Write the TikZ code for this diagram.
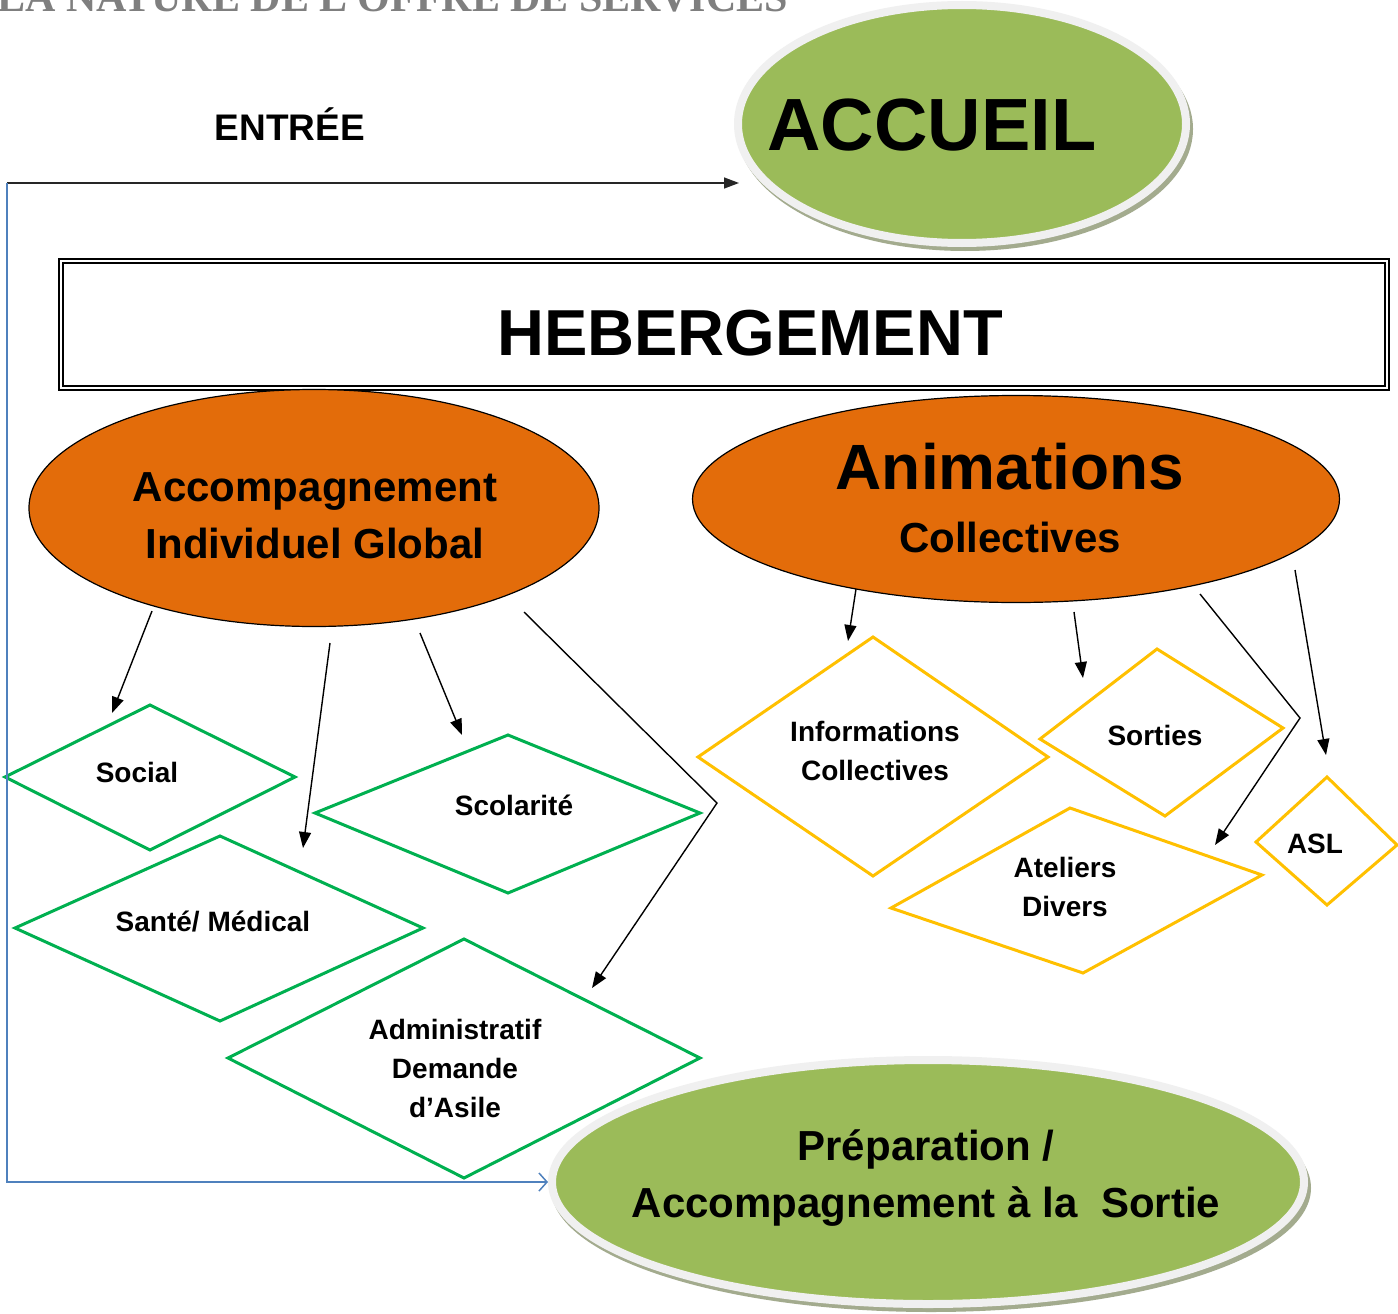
\documentclass[tikz,border=0pt]{standalone}
\usepackage{fontspec}
\setmainfont{Liberation Sans}
\newfontfamily\titlefont{Liberation Serif}
\usetikzlibrary{shapes.geometric,arrows.meta}
\definecolor{accgreen}{HTML}{9BBB59}
\definecolor{rimgray}{HTML}{F0F0F0}
\definecolor{shadowc}{HTML}{A3AB8E}
\definecolor{orangef}{HTML}{E36C0A}
\definecolor{dgreen}{HTML}{00B050}
\definecolor{dyellow}{HTML}{FFC000}
\definecolor{lblue}{HTML}{4F81BD}
\definecolor{titlegray}{HTML}{7F7F7F}
\begin{document}
\begin{tikzpicture}[x=1pt,y=-1pt,
  greenoval/.style={ellipse, fill=accgreen, draw=rimgray, line width=8pt, inner sep=0pt},
  orangeoval/.style={ellipse, fill=orangef, draw=black, line width=1.2pt, inner sep=0pt},
  lbl/.style={font=\bfseries\fontsize{28}{39}\selectfont, align=center, inner sep=0pt, anchor=base},
  biglbl/.style={font=\bfseries\fontsize{42}{57}\selectfont, align=center, inner sep=0pt, anchor=base},
  gdia/.style={draw=dgreen, line width=3pt, line join=miter},
  ydia/.style={draw=dyellow, line width=3pt, line join=miter},
  arr/.style={draw=black, line width=1.4pt, -{Triangle[length=16pt,width=12pt]}},
  bluearr/.style={draw=lblue, line width=1.5pt, -{Straight Barb[length=8pt,width=18pt,line width=1.5pt]}}
]
\useasboundingbox (0,0) rectangle (1398,1314);
\fill[white] (0,0) rectangle (1398,1314);

% title (cut off at top, as in the reference)
\begin{scope}
\clip (0,0) rectangle (1398,1314);
\node[font=\titlefont\bfseries\fontsize{42}{42}\selectfont, text=titlegray, inner sep=0pt, anchor=base west] (title) at (-3,12) {LA NATURE DE L’OFFRE DE SERVICES};
\end{scope}

% ACCUEIL
\fill[shadowc] (965,129) ellipse [x radius=228, y radius=122];
\node[greenoval, minimum width=448pt, minimum height=238pt] (accueil) at (962,124) {};
\node[font=\bfseries\fontsize{74}{80}\selectfont, inner sep=0pt, anchor=base] (accueiltxt) at (932,150) {ACCUEIL};

\node[font=\bfseries\fontsize{37}{40}\selectfont, inner sep=0pt, anchor=base] (entree) at (290,140) {ENTRÉE};

% HEBERGEMENT
\node[draw=black, double, line width=1.8pt, double distance=2.6pt, minimum width=1326pt, minimum height=127pt, inner sep=0pt] (heb) at (724,324.5) {};
\node[font=\bfseries\fontsize{65}{70}\selectfont, inner sep=0pt, anchor=base] (hebtxt) at (750,355) {HEBERGEMENT};

% Orange ellipses
\node[orangeoval, minimum width=570pt, minimum height=237pt] (aig) at (314,508) {};
\node[biglbl] (aigtxt) at (315,558) {Accompagnement\\Individuel Global};
\node[orangeoval, minimum width=647pt, minimum height=207pt] (anim) at (1016,499) {};
\node[font=\bfseries\fontsize{64}{64}\selectfont, inner sep=0pt, anchor=base] (animtxt) at (1010,489) {Animations};
\node[biglbl] (colltxt) at (1010,552) {Collectives};

% Green diamonds
\draw[gdia] (5,777) -- (150,705) -- (295,777) -- (150,850) -- cycle;
\node[lbl] (social) at (137,782) {Social};
\draw[gdia] (315,813) -- (508,735) -- (700,813) -- (508,893) -- cycle;
\node[lbl] (scol) at (514,815) {Scolarité};
\draw[gdia] (15,928) -- (220,836) -- (423,928) -- (220,1021) -- cycle;
\node[lbl] (sante) at (213,931) {Santé/ Médical};
\draw[gdia] (228,1058) -- (464,939) -- (700,1058) -- (464,1178) -- cycle;
\node[lbl] (admin) at (455,1117) {Administratif\\Demande\\d’Asile};

% Yellow diamonds
\draw[ydia] (698,757) -- (873,637) -- (1048,757) -- (873,876) -- cycle;
\node[lbl] (info) at (875,780) {Informations\\Collectives};
\draw[ydia] (1040,739) -- (1157,649) -- (1283,728) -- (1165,816) -- cycle;
\node[lbl] (sorties) at (1155,745) {Sorties};
\draw[ydia] (891,908) -- (1070,808) -- (1262,875) -- (1083,973) -- cycle;
\node[lbl] (ateliers) at (1065,916) {Ateliers\\Divers};
\draw[ydia] (1256,842) -- (1327,777) -- (1397,845) -- (1327,905) -- cycle;
\node[lbl] (asl) at (1315,853) {ASL};

% Préparation
\fill[shadowc] (931,1188) ellipse [x radius=380, y radius=124];
\node[greenoval, minimum width=752pt, minimum height=244pt] (prep) at (928,1182) {};
\node[biglbl] (preptxt) at (926,1217) {Préparation /\\Accompagnement à la\ \ Sortie};

% connectors
\coordinate (corner) at (7,183);
\coordinate (accin) at (739,183);
\draw[line width=1.4pt, draw=black!85, -{Triangle[length=15pt,width=11pt]}] (corner) -- (accin);
\draw[bluearr] (corner) |- (prep.west);

\coordinate (s1) at (152,611); \coordinate (e1) at (112,713);
\coordinate (s2) at (330,643); \coordinate (e2) at (303,848);
\coordinate (s3) at (420,633); \coordinate (e3) at (462,735);
\coordinate (s4) at (524,612); \coordinate (m4) at (717,803); \coordinate (e4) at (592,988);
\draw[arr] (s1) -- (e1);
\draw[arr] (s2) -- (e2);
\draw[arr] (s3) -- (e3);
\draw[arr] (s4) -- (m4) -- (e4);

\coordinate (s5) at (856,589); \coordinate (e5) at (848,641);
\coordinate (s6) at (1074,612); \coordinate (e6) at (1083,678);
\coordinate (s7) at (1200,594); \coordinate (m7) at (1300,718); \coordinate (e7) at (1215,845);
\coordinate (s8) at (1295,570); \coordinate (e8) at (1326,755);
\draw[arr] (s5) -- (e5);
\draw[arr] (s6) -- (e6);
\draw[arr] (s7) -- (m7) -- (e7);
\draw[arr] (s8) -- (e8);
\end{tikzpicture}
\end{document}
